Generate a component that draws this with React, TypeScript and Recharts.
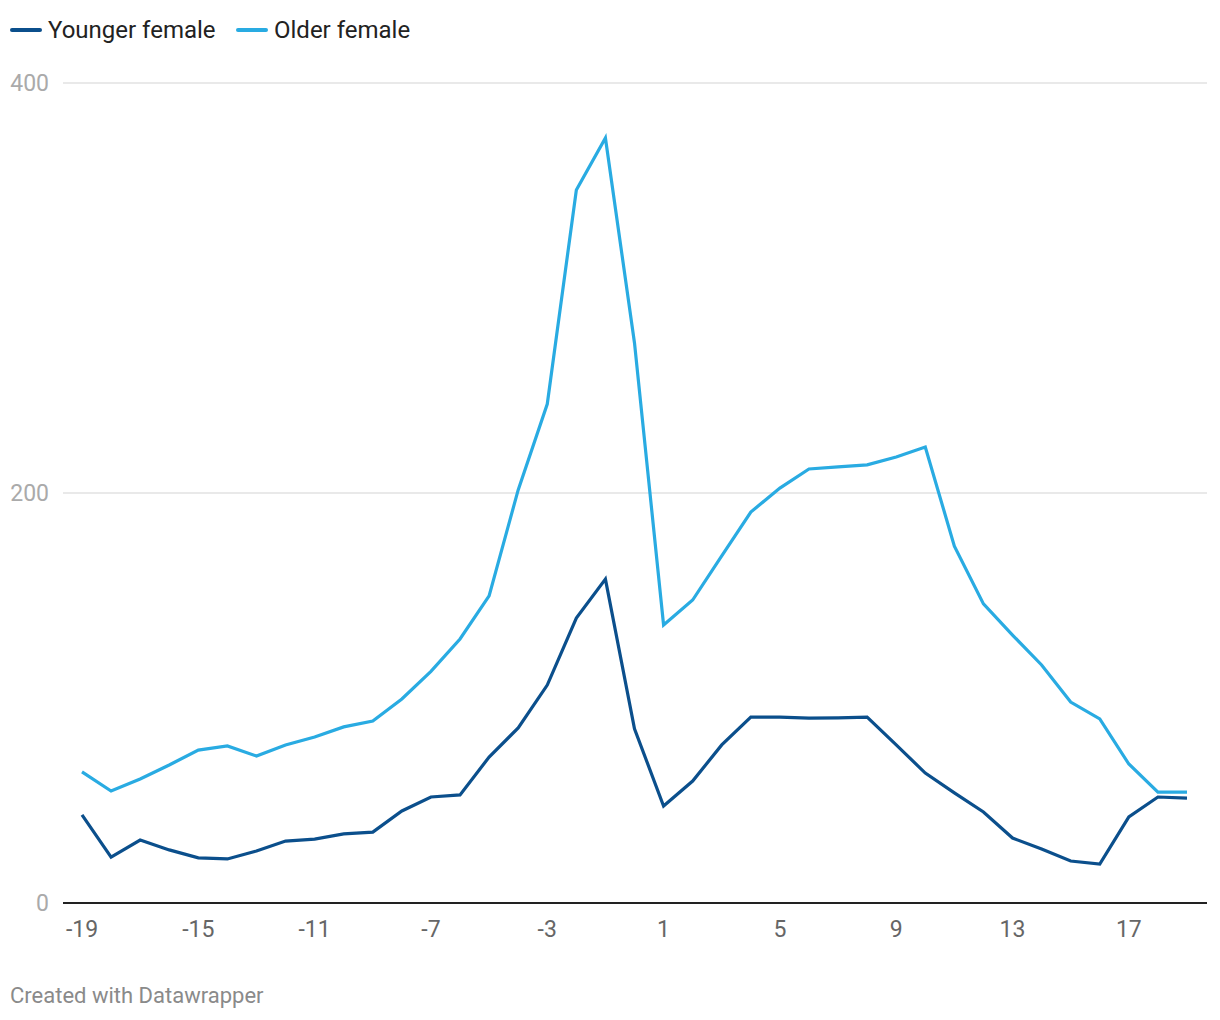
import React from 'react';
import { LineChart, Line, XAxis, YAxis, CartesianGrid, ReferenceLine } from 'recharts';

const years = [
  -19, -18, -17, -16, -15, -14, -13, -12, -11, -10, -9, -8, -7, -6, -5, -4, -3, -2, -1, 0,
  1, 2, 3, 4, 5, 6, 7, 8, 9, 10, 11, 12, 13, 14, 15, 16, 17, 18, 19,
];

const youngerFemale = [
  43, 22.4, 30.7, 25.9, 22, 21.5, 25.4, 30.2, 31.2, 33.7, 34.6, 44.9, 51.7, 52.7, 71.2, 85.4, 106.3, 139, 158, 85,
  47.3, 59.5, 77.1, 90.7, 90.7, 90.2, 90.3, 90.7, 77.1, 63.4, 53.7, 44.4, 31.7, 26.3, 20.5, 19, 42, 51.7, 51.2,
];

const olderFemale = [
  64, 54.6, 60.5, 67.3, 74.6, 76.6, 71.7, 77.1, 81, 85.9, 88.8, 99.5, 113, 128.8, 149.8, 201.5, 243.4, 347.8, 373.2, 273.2,
  135.6, 147.8, 169.3, 190.7, 202.4, 211.7, 212.7, 213.7, 217.6, 222.4, 174.1, 145.9, 130.7, 116.1, 98, 89.8, 67.8, 54.1, 54.1,
];

const xTicks = [-19, -15, -11, -7, -3, 1, 5, 9, 13, 17];
const yTicks = [0, 200, 400];

const DARK = '#0b4f8c';
const LIGHT = '#29abe2';
const FONT = 'Roboto, "Noto Sans", sans-serif';

const data = years.map((x, i) => ({ x, younger: youngerFemale[i], older: olderFemale[i] }));

function LegendItem({ color, label, left }: { color: string; label: string; left: number }) {
  return (
    <div style={{ position: 'absolute', left, top: 15, display: 'flex', alignItems: 'center' }}>
      <div style={{ width: 32, height: 3.5, background: color, borderRadius: 2, marginRight: 6 }} />
      <span style={{ fontSize: 24, color: '#222', lineHeight: '30px' }}>{label}</span>
    </div>
  );
}

export default function App() {
  return (
    <div style={{ position: 'relative', width: 1220, height: 1020, margin: -8, background: '#fff', fontFamily: FONT }}>
      <LegendItem color={DARK} label="Younger female" left={10} />
      <LegendItem color={LIGHT} label="Older female" left={236} />
      <div style={{ position: 'absolute', left: 0, top: 0 }}>
        <LineChart width={1220} height={960} data={data} margin={{ top: 83, right: 13, left: 0, bottom: 0 }}>
          <CartesianGrid vertical={false} stroke="#e2e2e2" strokeWidth={1.5} />
          <XAxis
            dataKey="x"
            type="number"
            domain={[-19, 19]}
            ticks={xTicks}
            padding={{ left: 19, right: 20 }}
            axisLine={false}
            tickLine={false}
            tickSize={0}
            tickMargin={18}
            height={57}
            tick={{ fill: '#666', fontSize: 23, fontFamily: FONT }}
          />
          <YAxis
            type="number"
            domain={[0, 400]}
            ticks={yTicks}
            width={63}
            axisLine={false}
            tickLine={false}
            tickSize={0}
            tickMargin={14}
            tick={{ fill: '#aaa', fontSize: 23, fontFamily: FONT }}
          />
          <ReferenceLine y={0} stroke="#222" strokeWidth={2} />
          <Line type="linear" dataKey="older" stroke={LIGHT} strokeWidth={3.2} dot={false} isAnimationActive={false} />
          <Line type="linear" dataKey="younger" stroke={DARK} strokeWidth={3.2} dot={false} isAnimationActive={false} />
        </LineChart>
      </div>
      <div style={{ position: 'absolute', left: 10, top: 983, fontSize: 22, color: '#8a8a8a' }}>
        Created with Datawrapper
      </div>
    </div>
  );
}
